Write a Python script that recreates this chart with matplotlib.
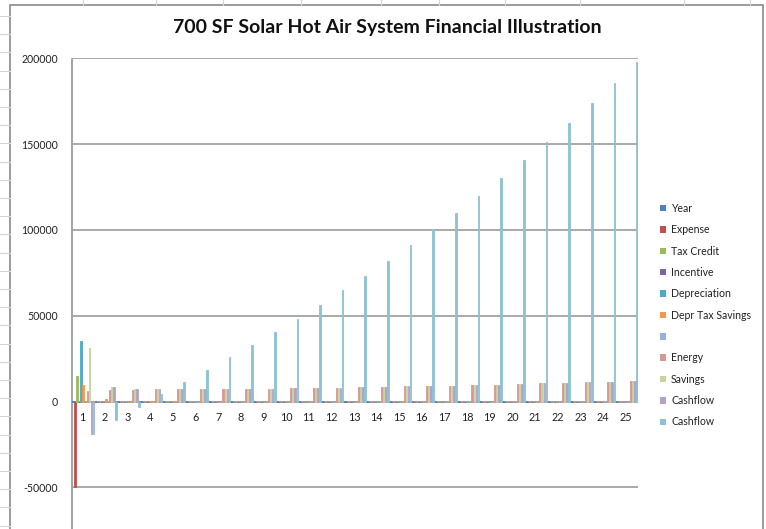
import matplotlib
matplotlib.use("Agg")
import matplotlib.pyplot as plt
from matplotlib.patches import Rectangle
from matplotlib.lines import Line2D
import numpy as np

# ---- data -------------------------------------------------------------
years = list(range(1, 26))

expense = [-50000] + [0] * 24
tax_credit = [15000] + [0] * 24
incentive = [0] * 25
depreciation = [35000] + [0] * 24
depr_tax_savings = [9800, 1600, 500, 400, 300] + [0] * 20
blank_series = [0] * 25
energy = [6400, 6600, 6900, 7100, 7100, 7200, 7300, 7400, 7500, 7700,
          7900, 8100, 8300, 8500, 8800, 9000, 9300, 9600, 9900, 10200,
          10500, 10800, 11200, 11500, 11900]
savings = [31200, 8200, 7400, 7500, 7400, 7200, 7300, 7400, 7500, 7700,
           7900, 8100, 8300, 8500, 8800, 9000, 9300, 9600, 9900, 10200,
           10500, 10800, 11200, 11500, 11900]
cashflow = [-18800, 8200, 7400, 7500, 7400, 7200, 7300, 7400, 7500, 7700,
            7900, 8100, 8300, 8500, 8800, 9000, 9300, 9600, 9900, 10200,
            10500, 10800, 11200, 11500, 11900]
cumulative_cashflow = [-18800, -10600, -3400, 4100, 11200, 18500, 25800,
                       32900, 40400, 48200, 56300, 64700, 73200, 81800,
                       91000, 100500, 109800, 119700, 130000, 140700,
                       151300, 162300, 174000, 185800, 197700]

series_names = ["Year", "Expense", "Tax Credit", "Incentive", "Depreciation",
                "Depr Tax Savings", "", "Energy", "Savings", "Cashflow",
                "Cashflow"]
series_values = [years, expense, tax_credit, incentive, depreciation,
                 depr_tax_savings, blank_series, energy, savings, cashflow,
                 cumulative_cashflow]
series_colors = ["#4F81BD", "#C0504D", "#9BBB59", "#8064A2", "#4BACC6",
                 "#F79646", "#95B3D7", "#D99694", "#C3D69B", "#B3A2C7",
                 "#8CC3D4"]

y_ticks = [-50000, 0, 50000, 100000, 150000, 200000]

# ---- figure -----------------------------------------------------------
W, H = 766, 529
fig = plt.figure(figsize=(W / 100, H / 100), dpi=100)
fig.patch.set_facecolor("white")
plt.rcParams["font.family"] = ["Lato", "DejaVu Sans"]


def fx(px):
    return px / W


def fy(py):
    return 1 - py / H


# spreadsheet grid peeking out around the chart object
for yy in np.arange(16, H, 18.2):
    fig.add_artist(Line2D([0, fx(10)], [fy(yy), fy(yy)], color="#d4d4d4",
                          lw=0.8, transform=fig.transFigure))
for xx in [83, 156, 223, 301, 381, 439, 505, 580, 684, 750]:
    fig.add_artist(Line2D([fx(xx), fx(xx)], [1, fy(5)], color="#d4d4d4",
                          lw=0.8, transform=fig.transFigure))

# chart object frame
fig.add_artist(Rectangle((fx(10), fy(H + 10)), fx(763) - fx(10),
                         fy(5) - fy(H + 10), transform=fig.transFigure,
                         facecolor="white", edgecolor="#8a8a8a", lw=1.2,
                         zorder=0))

# plot area: 0 at y=401.5px, 85.8px per 50000
y_top_px = 58.3
px_per_unit = 85.8 / 50000
y_bot_px = y_top_px + 300000 * px_per_unit
left_px, right_px = 72, 638
ax = fig.add_axes([fx(left_px), fy(y_bot_px), fx(right_px) - fx(left_px),
                   fy(y_top_px) - fy(y_bot_px)])
ax.set_facecolor("none")

n = len(series_values)
x = np.arange(len(years))
slot = 1.0 / n
handles = []
for i, (vals, col) in enumerate(zip(series_values, series_colors)):
    offs = -0.5 + slot * (i + 0.5)
    ax.bar(x + offs, vals, width=slot * 0.8, color=col,
           edgecolor=col, linewidth=0.6, zorder=3)
    handles.append(Rectangle((0, 0), 1, 1, facecolor=col, edgecolor="none"))

ax.set_xlim(-0.5, len(years) - 0.5)
ax.set_ylim(-100000, 200000)

for t in y_ticks:
    ax.axhline(t, color="#a3a3a3", lw=1.3, zorder=1)
ax.axhline(0, color="#9a9a9a", lw=1.3, ls=(0, (1, 0.6)), zorder=2)

for s in ["top", "right", "bottom"]:
    ax.spines[s].set_visible(False)
ax.spines["left"].set_color("#a0a0a0")
ax.spines["left"].set_linestyle((0, (1, 0.6)))
ax.spines["left"].set_linewidth(1.2)

ax.set_xticks([])
ax.set_yticks(y_ticks)
ax.set_yticklabels([str(t) for t in y_ticks], fontsize=7.6, color="#222222")
ax.tick_params(axis="y", length=0, pad=10)

for xi, yr in zip(x, years):
    ax.annotate(str(yr), (xi, 0), xytext=(-1, -16), textcoords="offset pixels",
                ha="center", va="center", fontsize=7.8, color="#222222")

fig.text(fx(387), fy(27), "700 SF Solar Hot Air System Financial Illustration",
         ha="center", va="center", fontsize=14, fontweight="bold",
         color="#111111")

leg = ax.legend(handles, series_names, loc="upper left",
                bbox_to_anchor=(fx(660), fy(203)),
                bbox_transform=fig.transFigure, frameon=False, fontsize=7.6,
                handlelength=0.55, handleheight=0.55, handletextpad=0.5,
                labelspacing=0.98, borderaxespad=0, borderpad=0)
for txt in leg.get_texts():
    txt.set_color("#222222")

fig.savefig("out.png", dpi=100)
